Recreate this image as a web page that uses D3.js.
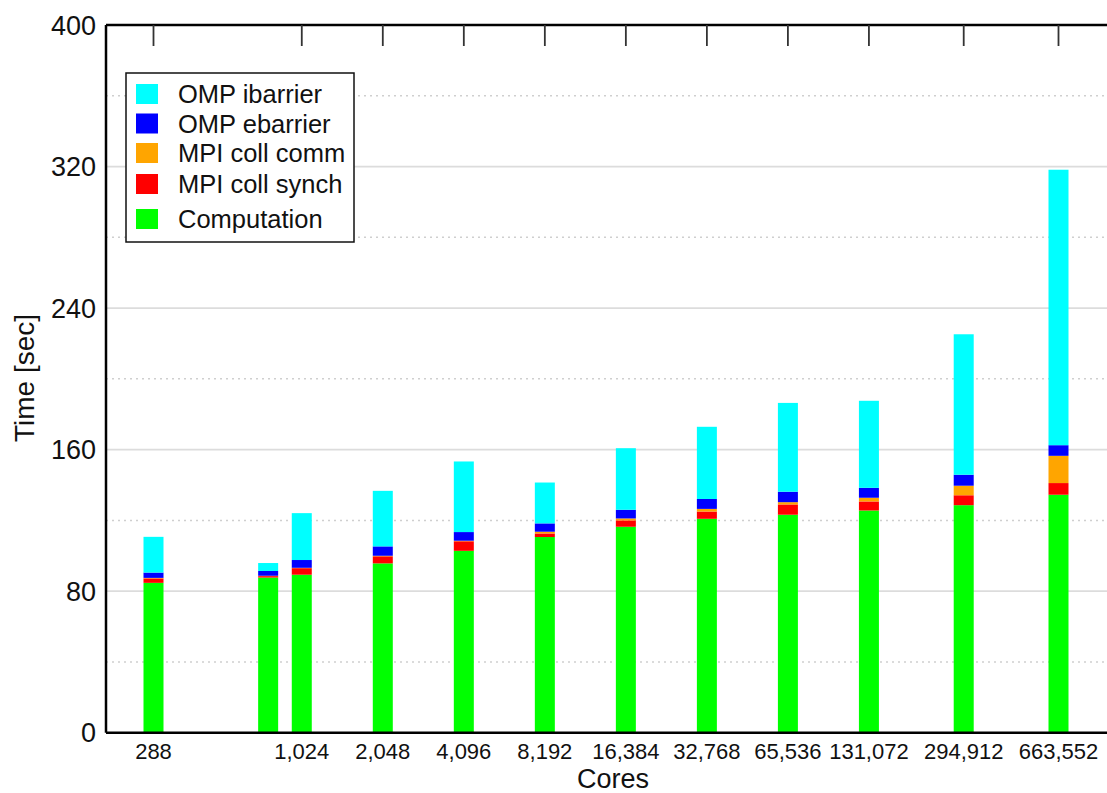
<!DOCTYPE html>
<html>
<head>
<meta charset="utf-8">
<script src="https://cdn.jsdelivr.net/npm/d3@7"></script>
<style>
  body { margin: 0; background: #fff; }
  svg { display: block; font-family: "Liberation Sans", Arial, Helvetica, sans-serif; }
</style>
</head>
<body>
<svg id="chart" width="1107" height="793"></svg>
<script>
// core counts (one bar each), 768 has no label
const cores = [288, 768, 1024, 2048, 4096, 8192, 16384, 32768, 65536, 131072, 294912, 663552];
const tickCores = [288, 1024, 2048, 4096, 8192, 16384, 32768, 65536, 131072, 294912, 663552];
const yTicks = [0, 80, 160, 240, 320, 400];
const yMinorTicks = [40, 120, 200, 280, 360];

// seconds per component
const computation = [84.7, 87.7, 89.3, 95.7, 102.8, 110.6, 116.4, 120.9, 123.2, 125.6, 128.6, 134.5];
const mpiCollSynch = [2.5, 0.8, 3.7, 4.0, 5.4, 2.0, 3.6, 4.1, 5.8, 5.1, 5.6, 6.6];
const mpiCollComm = [0.3, 0.2, 0.2, 0.3, 0.3, 1.0, 1.1, 1.5, 1.3, 2.1, 5.4, 15.4];
const ompEbarrier = [3.0, 2.7, 4.4, 5.3, 4.9, 4.7, 4.9, 5.6, 5.9, 5.6, 6.2, 6.0];
const ompIbarrier = [20.2, 4.5, 26.5, 31.4, 39.9, 23.1, 34.8, 40.8, 50.2, 49.2, 79.4, 155.7];

const keys = ["comp", "synch", "comm", "ebar", "ibar"];
const names = {comp: "Computation", synch: "MPI coll synch", comm: "MPI coll comm",
               ebar: "OMP ebarrier", ibar: "OMP ibarrier"};
const colors = {comp: "#00ff00", synch: "#ff0000", comm: "#ffa500", ebar: "#0000ff", ibar: "#00ffff"};

const margin = {top: 25, right: 0, bottom: 60, left: 106};
const width = 1107 - margin.left - margin.right;
const height = 793 - margin.top - margin.bottom - 0.3;

const svg = d3.select("#chart");
const g = svg.append("g").attr("transform", "translate(" + margin.left + "," + margin.top + ")");

const x = d3.scaleLog().base(2).domain([288, 663552]).range([47.5, 952.5]);
const y = d3.scaleLinear().domain([0, 400]).range([height, 0]);
const barWidth = 20;

const rows = cores.map((c, i) => ({
    cores: c, comp: computation[i], synch: mpiCollSynch[i], comm: mpiCollComm[i],
    ebar: ompEbarrier[i], ibar: ompIbarrier[i]
}));
const stacked = d3.stack().keys(keys)(rows);

// grid
g.selectAll("line.minor").data(yMinorTicks).enter().append("line")
    .attr("x1", 0).attr("x2", width)
    .attr("y1", d => y(d)).attr("y2", d => y(d))
    .attr("stroke", "#cfcfcf").attr("stroke-width", 1.5).attr("stroke-dasharray", "2,4");
g.selectAll("line.major").data(yTicks.filter(d => d > 0 && d < 400)).enter().append("line")
    .attr("x1", 0).attr("x2", width)
    .attr("y1", d => y(d)).attr("y2", d => y(d))
    .attr("stroke", "#dcdcdc").attr("stroke-width", 1.8);

// bars
g.selectAll("g.layer").data(stacked).enter().append("g")
    .attr("fill", d => colors[d.key])
    .selectAll("rect").data(d => d).enter().append("rect")
    .attr("x", d => x(d.data.cores) - barWidth / 2)
    .attr("width", barWidth)
    .attr("y", d => y(d[1]))
    .attr("height", d => y(d[0]) - y(d[1]));

// frame: left, bottom, top
g.append("line").attr("x1", 0).attr("x2", 0).attr("y1", 0).attr("y2", height)
    .attr("stroke", "#000").attr("stroke-width", 2.5);
g.append("line").attr("x1", 0).attr("x2", width).attr("y1", height).attr("y2", height)
    .attr("stroke", "#000").attr("stroke-width", 2.5);
g.append("line").attr("x1", 0).attr("x2", width).attr("y1", 0).attr("y2", 0)
    .attr("stroke", "#000").attr("stroke-width", 2.5);

// top ticks
g.selectAll("line.topTick").data(tickCores).enter().append("line")
    .attr("x1", d => x(d)).attr("x2", d => x(d))
    .attr("y1", 0).attr("y2", 21)
    .attr("stroke", "#333").attr("stroke-width", 1.8);

// y labels
g.selectAll("text.ylab").data(yTicks).enter().append("text")
    .attr("x", -10).attr("y", d => y(d)).attr("dy", "0.36em")
    .attr("text-anchor", "end").attr("font-size", 27).attr("fill", "#111")
    .text(d => d);

// x labels
g.selectAll("text.xlab").data(tickCores).enter().append("text")
    .attr("x", d => x(d)).attr("y", height + 26)
    .attr("text-anchor", "middle").attr("font-size", 22).attr("fill", "#111")
    .text(d => d3.format(",")(d));

// axis titles
svg.append("text").attr("x", 613).attr("y", 788)
    .attr("text-anchor", "middle").attr("font-size", 27).attr("fill", "#111")
    .text("Cores");
svg.append("text").attr("transform", "translate(34,378) rotate(-90)")
    .attr("text-anchor", "middle").attr("font-size", 28).attr("fill", "#111")
    .text("Time [sec]");

// legend
const legendKeys = ["ibar", "ebar", "comm", "synch", "comp"];
const legendY = [94, 123.5, 153, 184, 219];
const legend = svg.append("g").attr("transform", "translate(126,73)");
legend.append("rect").attr("width", 228).attr("height", 169)
    .attr("fill", "#fff").attr("stroke", "#111").attr("stroke-width", 1.5);
legendKeys.forEach((k, i) => {
    const cy = legendY[i] - 73;
    legend.append("rect").attr("x", 10).attr("y", cy - 10).attr("width", 22).attr("height", 20)
        .attr("fill", colors[k]);
    legend.append("text").attr("x", 52).attr("y", cy).attr("dy", "0.36em")
        .attr("font-size", 25.5).attr("fill", "#111").text(names[k]);
});
</script>
</body>
</html>
